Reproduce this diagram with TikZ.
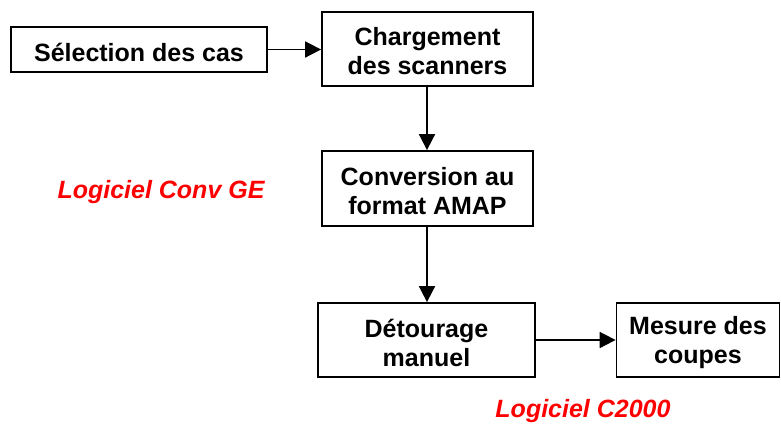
\documentclass[tikz,border=0pt]{standalone}
\usepackage{fontspec}
\setmainfont{Liberation Sans}
\usetikzlibrary{arrows.meta}
\newcommand{\lowr}[1]{\raisebox{-2.5pt}[\height][\depth]{#1}}
\begin{document}
\begin{tikzpicture}[x=1pt,y=-1pt,
  box/.style={draw=black,line width=1.8pt,fill=white,align=center,inner sep=0pt,
    font=\fontsize{25}{29}\selectfont\bfseries},
  conn/.style={line width=1.8pt,-{Triangle[length=16pt,width=16pt]}},
  soft/.style={text=red,font=\fontsize{25}{29}\selectfont\bfseries\itshape}]
\useasboundingbox (0,0) rectangle (781,426);
\node[box,minimum width=256pt,minimum height=45pt] (sel) at (139,49.5) {\lowr{Sélection des cas}};
\node[box,minimum width=211pt,minimum height=74pt] (charg) at (427.5,49) {\lowr{Chargement}\\\lowr{des scanners}};
\node[box,minimum width=211pt,minimum height=75pt] (conv) at (427.5,188.5) {\lowr{Conversion au}\\\lowr{format AMAP}};
\node[box,minimum width=217pt,minimum height=74pt] (detour) at (426.5,340) {\lowr{Détourage}\\\lowr{manuel}};
\node[box,minimum width=163pt,minimum height=74pt] (mesure) at (698,340) {\lowr{Mesure des}\\\lowr{coupes}};
\node[soft] (lgc1) at (161,192) {Logiciel Conv GE};
\node[soft] (lgc2) at (583,411) {Logiciel C2000};
\draw[conn] (sel.east) -- (charg.west |- sel.east);
\draw[conn] (charg.south -| 427,0) -- (conv.north -| 427,0);
\draw[conn] (conv.south -| 427,0) -- (detour.north -| 427,0);
\draw[conn] (detour.east) -- (mesure.west);
\end{tikzpicture}
\end{document}
